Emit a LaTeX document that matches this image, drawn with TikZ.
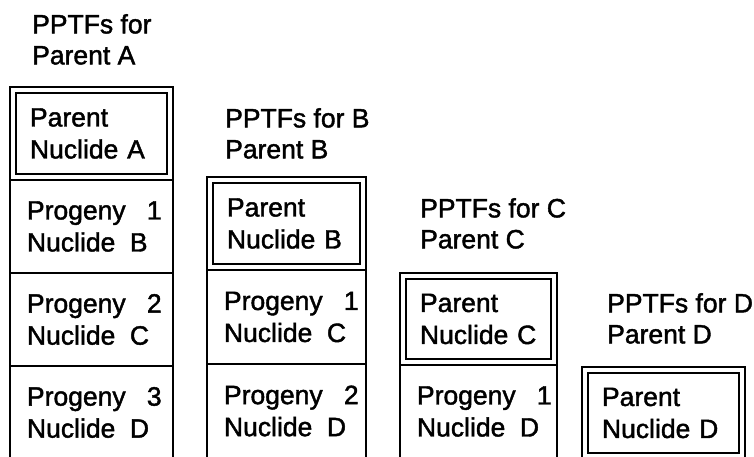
\documentclass[tikz,border=0pt]{standalone}
\usepackage{fontspec}
\setmainfont{Liberation Sans}
\newfontfamily\scanfont{Liberation Sans}[FakeBold=1.6]
\begin{document}
\begin{tikzpicture}[x=1pt, y=-1pt,
    cell/.style={rectangle, draw=black, line width=1.9pt, inner xsep=17pt,
                 inner ysep=0pt, outer sep=0pt, align=left,
                 font=\scanfont\fontsize{26.5}{32}\selectfont},
    parentbox/.style={cell, double, double distance=4pt},
    head/.style={anchor=north west, inner sep=0pt, align=left,
                 font=\scanfont\fontsize{26.5}{31}\selectfont}
  ]
  \useasboundingbox (0,0) rectangle (754,457);
  \clip (0,0) rectangle (754,457);

  % column A
  \node[head] (hA) at (32,14) {PPTFs for\\Parent A};
  \node[parentbox, text width=123pt, minimum height=87pt] (parA) at (91.5,133.5) {Parent\\Nuclide A};
  \node[cell, text width=129pt, minimum height=93pt] (progA1) at (91.5,226.5) {Progeny\kern0.8em 1\\Nuclide\kern0.55em B};
  \node[cell, text width=129pt, minimum height=93pt] (progA2) at (91.5,319.5) {Progeny\kern0.8em 2\\Nuclide\kern0.55em C};
  \node[cell, text width=129pt, minimum height=93pt] (progA3) at (91.5,412.5) {Progeny\kern0.8em 3\\Nuclide\kern0.55em D};

  % column B
  \node[head] (hB) at (225,108) {PPTFs for B\\Parent B};
  \node[parentbox, text width=119pt, minimum height=87pt] (parB) at (286.5,223.5) {Parent\\Nuclide B};
  \node[cell, text width=125pt, minimum height=94pt] (progB1) at (286.5,317) {Progeny\kern0.8em 1\\Nuclide\kern0.55em C};
  \node[cell, text width=125pt, minimum height=94pt] (progB2) at (286.5,411) {Progeny\kern0.8em 2\\Nuclide\kern0.55em D};

  % column C
  \node[head] (hC) at (420,198) {PPTFs for C\\Parent C};
  \node[parentbox, text width=117pt, minimum height=86pt] (parC) at (478.5,319) {Parent\\Nuclide C};
  \node[cell, text width=123pt, minimum height=93pt] (progC1) at (478.5,411.5) {Progeny\kern0.8em 1\\Nuclide\kern0.55em D};

  % column D
  \node[head] (hD) at (607,293) {PPTFs for D\\Parent D};
  \node[parentbox, text width=123pt, minimum height=86pt] (parD) at (663.5,413) {Parent\\Nuclide D};
\end{tikzpicture}
\end{document}
